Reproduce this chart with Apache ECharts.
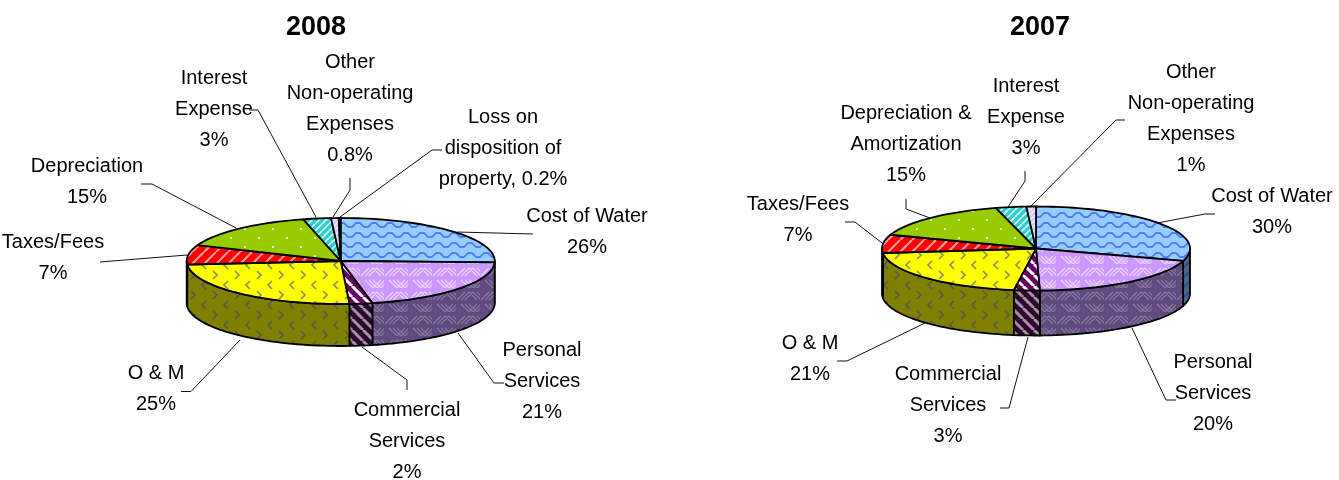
<!DOCTYPE html>
<html>
<head>
<meta charset="utf-8">
<title>2008 / 2007</title>
<script src="https://cdn.jsdelivr.net/npm/echarts@6/dist/echarts.min.js"></script>
<style>
  html, body { margin: 0; padding: 0; background: #ffffff; }
  #chart { width: 1339px; height: 480px; }
</style>
</head>
<body>
<div id="chart"></div>
<script>
// values, slightly off the printed percent where the slice edges say so
const values2008 = [25.5, 21.2, 2.4, 24.6, 7.3, 15.1, 2.9, 0.8, 0.2];
const values2007 = [29.8, 19.8, 2.7, 21, 7, 15.5, 3.2, 1];

const labels2008 = [
  "Cost of Water\n26%",
  "Personal\nServices\n21%",
  "Commercial\nServices\n2%",
  "O & M\n25%",
  "Taxes/Fees\n7%",
  "Depreciation\n15%",
  "Interest\nExpense\n3%",
  "Other\nNon-operating\nExpenses\n0.8%",
  "Loss on\ndisposition of\nproperty, 0.2%",
];
const labels2007 = [
  "Cost of Water\n30%",
  "Personal\nServices\n20%",
  "Commercial\nServices\n3%",
  "O & M\n21%",
  "Taxes/Fees\n7%",
  "Depreciation &\nAmortization\n15%",
  "Interest\nExpense\n3%",
  "Other\nNon-operating\nExpenses\n1%",
];

// label centre x and the centre y of the first line
const labelPos2008 = [[587, 216], [542, 350], [407, 410], [156, 373], [53, 242], [87, 166], [214, 78], [350, 62], [503, 117]];
const labelPos2007 = [[1272, 196], [1213, 362], [948, 374], [810, 343], [798, 204], [906, 113], [1026, 86], [1191, 72]];

// leader lines
const leaders2008 = [
  [[457, 232], [533, 234]],
  [[458, 333], [494, 383], [504, 383]],
  [[362, 347], [407, 380], [407, 390]],
  [[240, 340], [191, 391.5], [181, 391.5]],
  [[187, 255], [100, 262]],
  [[236, 228], [152, 184], [141, 184]],
  [[316, 217], [258, 110], [249, 110]],
  [[333, 217], [350, 190], [350, 178]],
  [[340, 217], [432, 150], [442, 150]],
];
const leaders2007 = [
  [[1157, 223], [1205, 214], [1215, 214]],
  [[1132, 328], [1166, 400], [1176, 400]],
  [[1028, 337], [1009, 408], [1000, 408]],
  [[925, 323], [847, 361], [837, 361]],
  [[882, 243], [855, 222], [845, 222]],
  [[930, 218], [906, 209], [906, 199]],
  [[1008, 207], [1025, 181], [1025, 171]],
  [[1030, 207], [1116, 120], [1125, 120]],
];

function tile(w, h, base, draw) {
  const c = document.createElement("canvas");
  c.width = w;
  c.height = h;
  const g = c.getContext("2d");
  g.fillStyle = base;
  g.fillRect(0, 0, w, h);
  draw(g);
  return { image: c, repeat: "repeat" };
}

function wave(base, ink) {
  return tile(16, 10, base, (g) => {
    g.strokeStyle = ink;
    g.lineWidth = 1.8;
    g.beginPath();
    g.moveTo(-4, 7);
    g.lineTo(0, 7);
    g.lineTo(4, 3);
    g.lineTo(8, 3);
    g.lineTo(12, 7);
    g.lineTo(16, 7);
    g.lineTo(20, 3);
    g.stroke();
  });
}

function weave(base, ink) {
  return tile(24, 24, base, (g) => {
    g.strokeStyle = ink;
    g.lineWidth = 1.3;
    g.beginPath();
    for (let i = 0; i < 3; i++) {
      const d = i * 4 + 1;
      g.moveTo(d, 12);
      g.lineTo(d + 8, 4);
      g.moveTo(12 + d, 4);
      g.lineTo(20 + d, 12);
      g.moveTo(d + 4, 16);
      g.lineTo(d + 12, 24);
      g.moveTo(12 + d, 24);
      g.lineTo(20 + d, 16);
    }
    g.stroke();
  });
}

function chevrons(base, ink) {
  return tile(22, 20, base, (g) => {
    g.strokeStyle = ink;
    g.lineWidth = 1.7;
    g.beginPath();
    g.moveTo(8, 1);
    g.lineTo(4, 5);
    g.lineTo(8, 9);
    g.moveTo(15, 11);
    g.lineTo(19, 15);
    g.lineTo(15, 19);
    g.stroke();
  });
}

function stripes(size, base, ink, width, dir) {
  return tile(size, size, base, (g) => {
    g.strokeStyle = ink;
    g.lineWidth = width;
    g.beginPath();
    for (let i = -1; i <= 1; i++) {
      if (dir > 0) {
        g.moveTo(i * size, size);
        g.lineTo(i * size + size, 0);
      } else {
        g.moveTo(i * size, 0);
        g.lineTo(i * size + size, size);
      }
    }
    g.stroke();
  });
}

function dots(base, ink) {
  return tile(28, 18, base, (g) => {
    g.fillStyle = ink;
    g.fillRect(6, 3, 2, 2);
    g.fillRect(20, 12, 2, 2);
  });
}

const blue = { top: wave("#99ccff", "#4d80ff"), side: wave("#4d6680", "#264d99") };
const purple = { top: weave("#cc99ff", "#e6d0ff"), side: weave("#604a80", "#85759a") };
const plum = { top: stripes(11, "#660066", "#ffffff", 3, -1), side: stripes(11, "#330033", "#999999", 3, -1) };
const yellow = { top: chevrons("#ffff00", "#8f8f60"), side: chevrons("#808000", "#5a5a48") };
const red = { top: stripes(12, "#ff0000", "#ff9999", 2.2, 1), side: stripes(12, "#800000", "#804d4d", 2.2, 1) };
const green = { top: dots("#99cc00", "#e4f0c0"), side: dots("#4d6600", "#72805f") };
const teal = { top: stripes(7, "#33cccc", "#ccffff", 1.8, 1), side: stripes(7, "#1a6666", "#668080", 1.8, 1) };
const lavender = { top: stripes(5, "#ccccff", "#f4f4ff", 1.2, 1), side: stripes(5, "#666680", "#7a7a8c", 1.2, 1) };
const dark = { top: "#003322", side: "#001a11" };

const fills2008 = [blue, purple, plum, yellow, red, green, teal, lavender, dark];
const fills2007 = [blue, purple, plum, yellow, red, green, teal, lavender];

function rim(p, a, b, dy) {
  // angle in degrees, clockwise from the top of the ellipse
  const pts = [];
  const n = Math.max(1, Math.ceil(Math.abs(b - a) / 2));
  for (let i = 0; i <= n; i++) {
    const t = ((a + ((b - a) * i) / n) * Math.PI) / 180;
    pts.push([p.cx + p.rx * Math.sin(t), p.cy - p.ry * Math.cos(t) + dy]);
  }
  return pts;
}

function pieSeries(name, values, fills, p) {
  const total = values.reduce((s, v) => s + v, 0);
  return {
    type: "custom",
    name: name,
    coordinateSystem: "none",
    animation: false,
    silent: true,
    data: values,
    renderItem(params, api) {
      const i = params.dataIndex;
      let before = 0;
      for (let k = 0; k < i; k++) before += values[k];
      const a0 = (before / total) * 360;
      const a1 = ((before + api.value(0)) / total) * 360;
      const line = { stroke: "#000000", lineWidth: 1.8, lineJoin: "round" };
      const children = [];
      const s0 = Math.max(a0, 90);
      const s1 = Math.min(a1, 270);
      if (s1 > s0) {
        children.push({
          type: "polygon",
          shape: { points: rim(p, s0, s1, 0).concat(rim(p, s1, s0, p.depth)) },
          style: Object.assign({ fill: fills[i].side }, line),
        });
      }
      children.push({
        type: "polygon",
        shape: { points: [[p.cx, p.cy]].concat(rim(p, a0, a1, 0)) },
        style: Object.assign({ fill: fills[i].top }, line),
      });
      return { type: "group", children: children };
    },
  };
}

function labelGraphics(labels, pos) {
  return labels.map((text, i) => ({
    type: "text",
    x: pos[i][0],
    y: pos[i][1] + (text.split("\n").length - 1) * 15.5,
    silent: true,
    style: {
      text: text,
      fill: "#000000",
      font: "20px 'Liberation Sans Narrow', 'Liberation Sans', sans-serif",
      lineHeight: 31,
      textAlign: "center",
      textVerticalAlign: "middle",
    },
  }));
}

function leaderGraphics(leaders) {
  return leaders.map((pts) => ({
    type: "polyline",
    silent: true,
    shape: { points: pts },
    style: { stroke: "#111111", lineWidth: 1, fill: null },
  }));
}

const chart = echarts.init(document.getElementById("chart"), null, { renderer: "canvas" });
chart.setOption({
  animation: false,
  backgroundColor: "#ffffff",
  title: [
    { text: "2008", left: 311, top: 23, textAlign: "center", textVerticalAlign: "middle",
      textStyle: { color: "#000", fontFamily: "Liberation Sans", fontWeight: "bold", fontSize: 27 } },
    { text: "2007", left: 1035, top: 23, textAlign: "center", textVerticalAlign: "middle",
      textStyle: { color: "#000", fontFamily: "Liberation Sans", fontWeight: "bold", fontSize: 27 } },
  ],
  tooltip: { show: false },
  series: [
    pieSeries("2008", values2008, fills2008, { cx: 340.7, cy: 261, rx: 154, ry: 43, depth: 42 }),
    pieSeries("2007", values2007, fills2007, { cx: 1036, cy: 248.5, rx: 154, ry: 42, depth: 45 }),
  ],
  graphic: leaderGraphics(leaders2008)
    .concat(leaderGraphics(leaders2007))
    .concat(labelGraphics(labels2008, labelPos2008))
    .concat(labelGraphics(labels2007, labelPos2007)),
});
</script>
</body>
</html>
